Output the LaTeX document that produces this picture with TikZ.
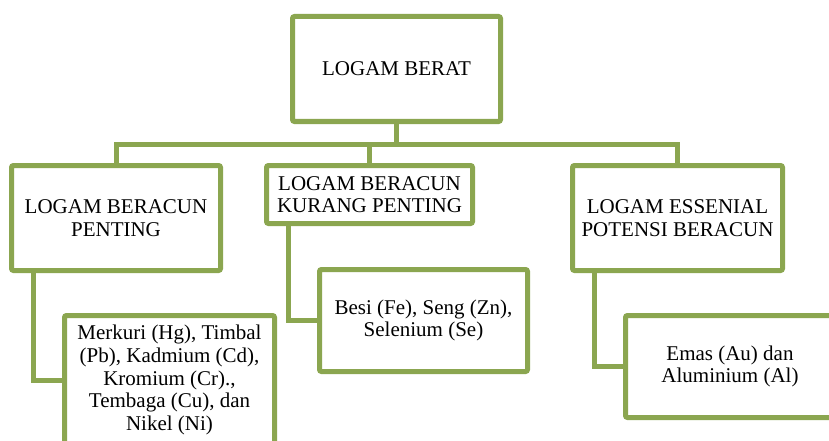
\documentclass[tikz,border=0pt]{standalone}
\usepackage{fontspec}
\setmainfont{Liberation Serif}
\definecolor{leaf}{RGB}{139,166,80}
\newcommand{\boxfont}{\fontsize{21}{22.7}\selectfont}
\begin{document}
\begin{tikzpicture}[x=1pt,y=-1pt,
  box/.style={draw=leaf, line width=5pt, fill=white, rounded corners=2pt,
    inner sep=0pt, align=center, font=\boxfont, text=black},
  link/.style={draw=leaf, line width=5pt}]
\useasboundingbox (0,0) rectangle (829,441);
\clip (0,0) rectangle (829,441);

% top level
\node[box, minimum width=208pt, minimum height=105pt] (top) at (396.5,69) {LOGAM BERAT};

% categories
\node[box, minimum width=209pt, minimum height=105pt] (l1) at (116,218)
  {LOGAM BERACUN\\PENTING};
\node[box, minimum width=206pt, minimum height=58pt] (m1) at (369.5,194.5)
  {LOGAM BERACUN\\KURANG PENTING};
\node[box, minimum width=210pt, minimum height=105pt] (r1) at (677.5,218)
  {LOGAM ESSENIAL\\POTENSI BERACUN};

% members
\node[box, minimum width=210pt, minimum height=129pt] (l2) at (169.5,380)
  {Merkuri (Hg), Timbal\\(Pb), Kadmium (Cd),\\Kromium (Cr).,\\Tembaga (Cu), dan\\Nikel (Ni)};
\node[box, minimum width=208pt, minimum height=102pt] (m2) at (423.5,320.5)
  {Besi (Fe), Seng (Zn),\\Selenium (Se)};
\node[box, minimum width=209pt, minimum height=102pt] (r2) at (730,366.5)
  {Emas (Au) dan\\Aluminium (Al)};

% connectors from the top box
\coordinate (bus) at (0,144);
\path[link] (top.south) -- (top.south |- bus) -| (l1.north);
\path[link] (top.south) -- (top.south |- bus) -| (m1.north);
\path[link] (top.south) -- (top.south |- bus) -| (r1.north);

% connectors to the members
\path[link] ([xshift=24pt]l1.south west) |- (l2.west);
\path[link] ([xshift=24pt]m1.south west) |- (m2.west);
\path[link] ([xshift=24pt]r1.south west) |- (r2.west);
\end{tikzpicture}
\end{document}
